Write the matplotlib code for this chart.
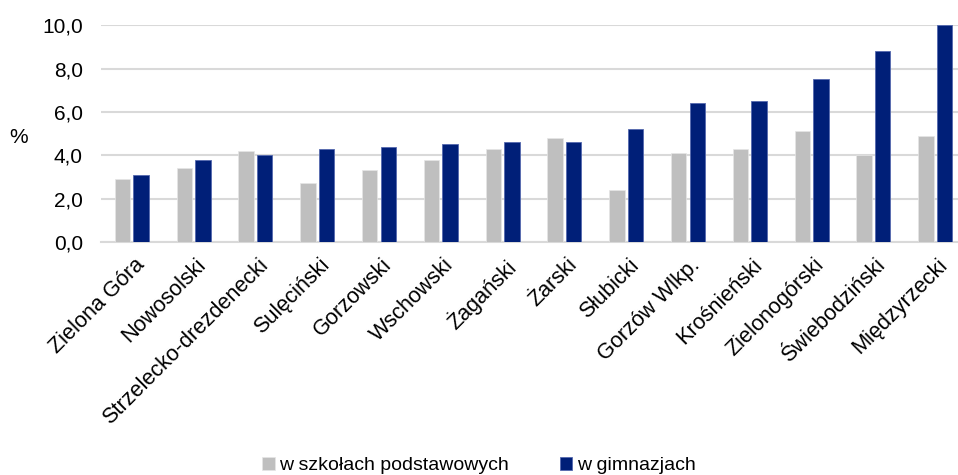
import numpy as np
import matplotlib.pyplot as plt

plt.rcParams['font.family'] = ['Liberation Sans', 'DejaVu Sans']

powiaty = ["Zielona Góra", "Nowosolski", "Strzelecko-drezdenecki", "Sulęciński",
           "Gorzowski", "Wschowski", "Żagański", "Żarski", "Słubicki",
           "Gorzów Wlkp.", "Krośnieński", "Zielonogórski", "Świebodziński",
           "Międzyrzecki"]
podstawowe = [2.9, 3.4, 4.2, 2.7, 3.3, 3.8, 4.3, 4.8, 2.4, 4.1, 4.3, 5.1, 4.0, 4.9]
gimnazja = [3.1, 3.8, 4.0, 4.3, 4.4, 4.5, 4.6, 4.6, 5.2, 6.4, 6.5, 7.5, 8.8, 10.0]

GREY = "#BFBFBF"
NAVY = "#001F78"
FS = 15

fig = plt.figure(figsize=(9.58, 4.75), dpi=100)
ax = fig.add_axes([0.1054, 0.4905, 0.903, 0.4565])

x = np.arange(len(powiaty))
w = 0.25
ax.bar(x - 0.15, podstawowe, w, color=GREY, edgecolor="#E6E6E6", linewidth=0.5,
       label="w szkołach podstawowych", zorder=3)
ax.bar(x + 0.15, gimnazja, w, color=NAVY, edgecolor="#5468AE", linewidth=0.6,
       label="w gimnazjach", zorder=3)

ax.set_xlim(-0.5, len(powiaty) - 0.5)
ax.set_ylim(0, 10)
ax.set_yticks(np.arange(0, 10.1, 2))
ax.set_yticklabels([f"{v:.1f}".replace(".", ",") for v in np.arange(0, 10.1, 2)],
                   fontsize=FS)
ax.yaxis.grid(True, color="#D9D9D9", linewidth=1.5, zorder=0)
for s in ["top", "right", "left"]:
    ax.spines[s].set_visible(False)
ax.spines["bottom"].set_color("#D9D9D9")
ax.spines["bottom"].set_linewidth(1.5)
ax.tick_params(axis="y", length=0, pad=13)
ax.tick_params(axis="x", length=0, pad=9)

# labels end just right of each group's centre
ax.set_xticks(x + 0.03)
ax.set_xticklabels(powiaty, rotation=45, ha="right", rotation_mode="anchor",
                   fontsize=15.6)

ax.set_ylabel("%", rotation=0, fontsize=FS)
ax.yaxis.set_label_coords(-0.095, 0.44)

fig.legend(loc="lower center", bbox_to_anchor=(0.5, -0.035), ncol=2,
           frameon=False, fontsize=14, handlelength=0.65, handleheight=0.65,
           handletextpad=0.25, columnspacing=2.6)

fig.savefig("out.png", dpi=100)
